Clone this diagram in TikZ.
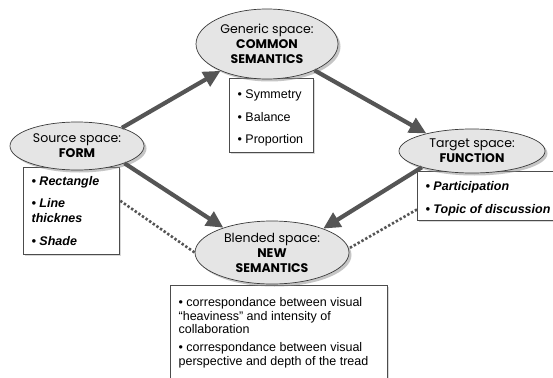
\documentclass[tikz,border=0pt]{standalone}
\usepackage{fontspec}
\setmainfont{Liberation Sans}
\newfontfamily\capfont{Poppins}
\usetikzlibrary{shapes.geometric,arrows.meta,shadows}

\definecolor{arrowgray}{HTML}{555555}
\definecolor{ellfill}{HTML}{E5E5E5}
\definecolor{edgegray}{HTML}{3A3A3A}

% top-aligned block of lines: height, width, top padding, lines
\newcommand\boxlines[4]{%
  \begin{minipage}[t][#1][t]{#2}\raggedright\vspace*{#3}#4\end{minipage}}

\begin{document}
\begin{tikzpicture}[x=1pt,y=-1pt,
  space/.style={ellipse, draw=edgegray, line width=0.7pt, fill=ellfill,
    inner sep=0pt, align=center,
    font=\capfont\fontsize{12.5}{15}\selectfont,
    drop shadow={shadow xshift=2.5pt, shadow yshift=-2.5pt, fill=black!45}},
  itembox/.style={draw=black!70, line width=1.3pt, fill=white,
    inner xsep=8pt, inner ysep=0pt, anchor=north west,
    drop shadow={shadow xshift=1.5pt, shadow yshift=-1.5pt, fill=black!30}},
  flow/.style={draw=arrowgray, line width=4.2pt,
    -{Triangle[length=17pt,width=16pt]}},
  link/.style={draw=arrowgray, line width=2.6pt, dash pattern=on 2.4pt off 2pt},
]
\useasboundingbox (0,0) rectangle (553,377);
\begin{scope}
\clip (0,0) rectangle (553,377);

% lists of properties under each space
\node[itembox] (genbox) at (229,78)
  {\fontsize{12.5}{22.5}\selectfont
   \boxlines{74pt}{68pt}{11.4pt}{• Symmetry\\• Balance\\• Proportion}};
\node[itembox, font=\bfseries\itshape] (srcbox) at (23,167)
  {\fontsize{12.5}{15}\selectfont
   \boxlines{87pt}{80pt}{9.2pt}{• Rectangle\\[7pt]• Line\\thicknes\\[8pt]• Shade}};
\node[itembox, font=\bfseries\itshape] (tgtbox) at (417,171)
  {\fontsize{12.5}{23}\selectfont
   \boxlines{49pt}{134pt}{9.4pt}{• Participation\\• Topic of discussion}};
\node[itembox] (blendbox) at (170,285)
  {\fontsize{12.5}{13.5}\selectfont
   \boxlines{110pt}{201pt}{12.2pt}{• correspondance between visual\\
     “heaviness” and intensity of\\collaboration\\[4.5pt]
     • correspondance between visual\\perspective and depth of the tread}};

% the four mental spaces
\node[space, minimum width=142pt, minimum height=70pt] (gen) at (267,44)
  {Generic space:\\\textbf{COMMON}\\\textbf{SEMANTICS}};
\node[space, minimum width=134pt, minimum height=48pt] (src) at (77,146)
  {Source space:\\\textbf{FORM}};
\node[space, minimum width=146pt, minimum height=44pt] (tgt) at (472,151)
  {Target space:\\\textbf{FUNCTION}};
\node[space, minimum width=154pt, minimum height=63pt] (blend) at (272,252.5)
  {Blended space:\\\textbf{NEW}\\\textbf{SEMANTICS}};

% projections between spaces
\draw[flow] (src.22.6) -- (gen.210.5);
\draw[flow] (gen.331.4) -- (tgt.159);
\draw[flow] (src.340) -- (blend.153);
\draw[flow] (tgt.198.7) -- (blend.25.3);

% dotted correspondences into the blend
\draw[link] (srcbox.12) -- (blend.180);
\draw[link] (tgtbox.190) -- (blend.3);
\end{scope}
\end{tikzpicture}
\end{document}
